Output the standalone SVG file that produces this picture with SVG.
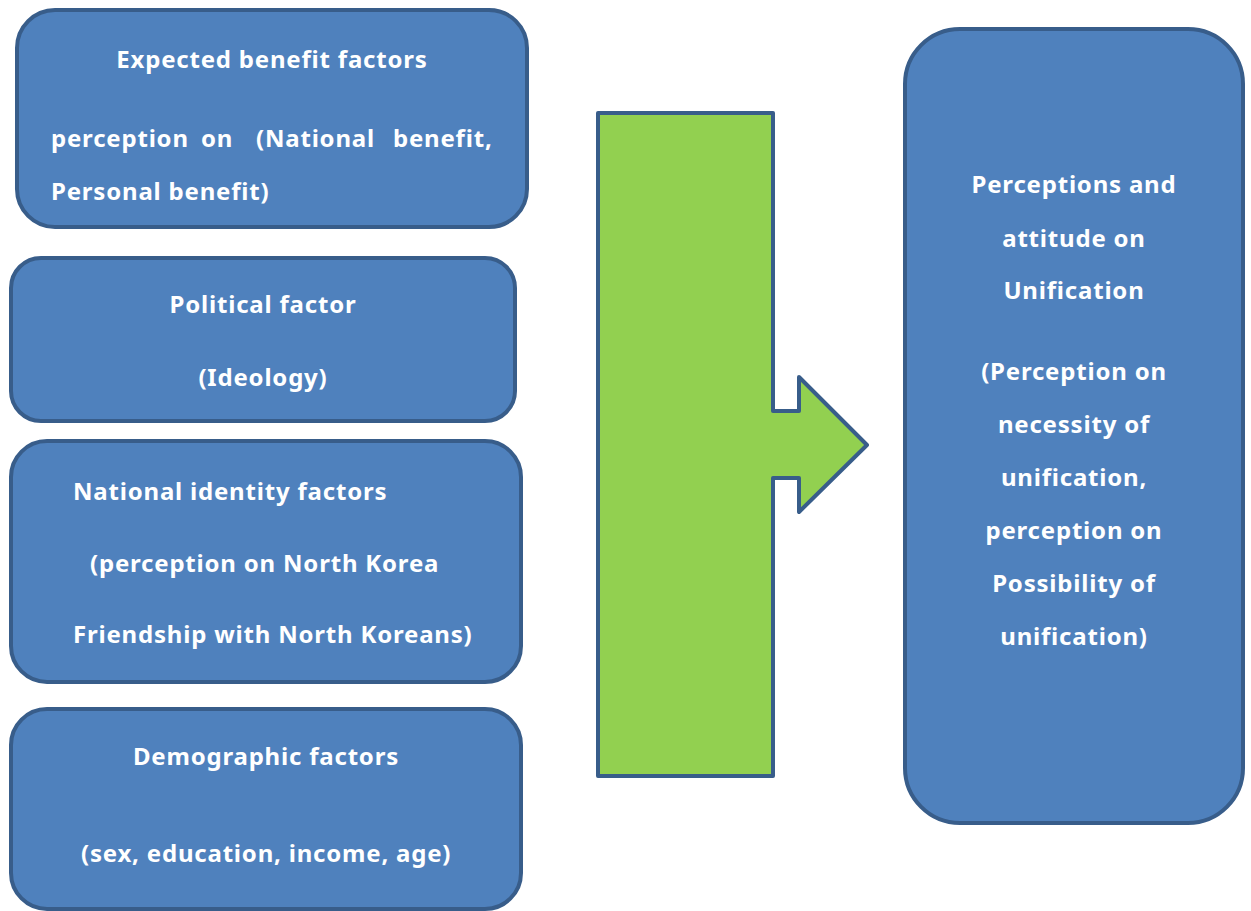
<svg xmlns="http://www.w3.org/2000/svg" width="1251" height="911" viewBox="0 0 1251 911">
  <style>
    .box { fill: #4F81BD; stroke: #385D8A; stroke-width: 4; }
    .arrow { fill: #92D050; stroke: #385D8A; stroke-width: 4; stroke-linejoin: round; }
    text { font-family: "Noto Sans", "Open Sans", sans-serif; font-weight: bold; font-size: 24px; letter-spacing: 0.8px; fill: #FFFFFF; }
    .c { text-anchor: middle; }
  </style>
  <rect width="1251" height="911" fill="#FFFFFF"/>

  <g id="connectors">
    <polygon class="arrow" points="598,113 773,113 773,411 799,411 799,377 867,445 799,512 799,478 773,478 773,776 598,776"/>
  </g>

  <g id="expected-benefit">
    <rect class="box" x="17" y="10" width="510" height="217" rx="38"/>
    <text class="c" x="272" y="68">Expected benefit factors</text>
    <text y="147"><tspan x="51">perception</tspan><tspan x="201">on</tspan><tspan x="256">(National</tspan><tspan x="393">benefit,</tspan></text>
    <text x="51" y="200">Personal benefit)</text>
  </g>

  <g id="political">
    <rect class="box" x="11" y="258" width="504" height="163" rx="30"/>
    <text class="c" x="263" y="313">Political factor</text>
    <text class="c" x="263" y="386">(Ideology)</text>
  </g>

  <g id="national-identity">
    <rect class="box" x="11" y="441" width="510" height="241" rx="36"/>
    <text x="73" y="500">National identity factors</text>
    <text x="90" y="572">(perception on North Korea</text>
    <text x="73" y="643">Friendship with North Koreans)</text>
  </g>

  <g id="demographic">
    <rect class="box" x="11" y="709" width="510" height="200" rx="36"/>
    <text class="c" x="266" y="765">Demographic factors</text>
    <text x="81" y="862">(sex, education, income, age)</text>
  </g>

  <g id="unification">
    <rect class="box" x="905" y="29" width="338" height="794" rx="55"/>
    <text class="c" x="1074" y="193">Perceptions and</text>
    <text class="c" x="1074" y="247">attitude on</text>
    <text class="c" x="1074" y="299">Unification</text>
    <text class="c" x="1074" y="380">(Perception on</text>
    <text class="c" x="1074" y="433">necessity of</text>
    <text class="c" x="1074" y="486">unification,</text>
    <text class="c" x="1074" y="539">perception on</text>
    <text class="c" x="1074" y="592">Possibility of</text>
    <text class="c" x="1074" y="645">unification)</text>
  </g>
</svg>
